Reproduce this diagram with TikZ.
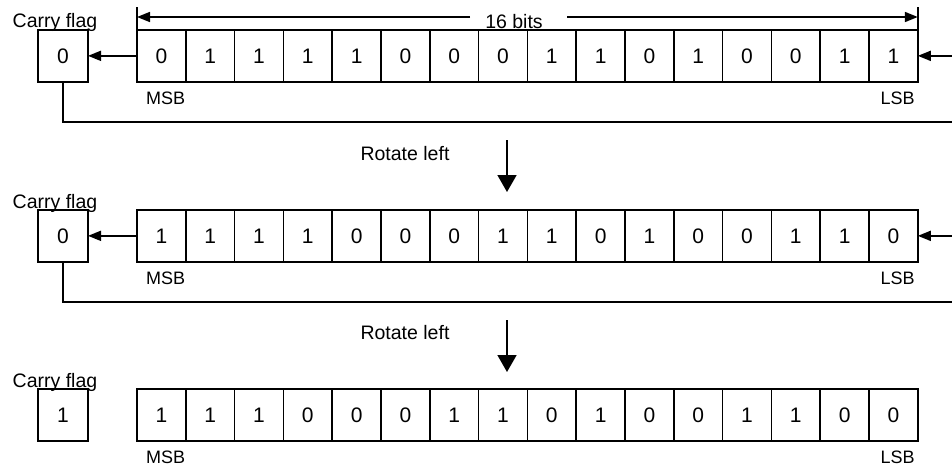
\documentclass[tikz,border=0pt]{standalone}
\usepackage{fontspec}
\setmainfont{Liberation Sans}
\usetikzlibrary{arrows.meta,calc,positioning}
\tikzset{
  bitcell/.style={draw, line width=1.7pt, minimum width=48.8pt, minimum height=51.7pt,
    inner sep=0pt, outer sep=0pt, font=\fontsize{21}{21}\selectfont},
  carrybox/.style={bitcell, minimum width=50pt},
  lbl/.style={inner sep=0pt, font=\fontsize{19.5}{19.5}\selectfont},
  edgelbl/.style={inner sep=0pt, font=\fontsize{18}{18}\selectfont},
  wire/.style={line width=1.7pt},
  tip/.style={wire, -{Triangle[length=13pt,width=10pt]}},
  bigtip/.style={wire, -{Triangle[length=17pt,width=19pt]}}
}
% one register row: #1 name, #2 top edge, #3 carry bit, #4 the 16 bits
\newcommand{\bitrow}[4]{%
  \node[carrybox, anchor=north west] (#1c) at (38,#2) {#3};
  \node[lbl, anchor=base] (#1lab) at ($(#1c.north)+(-8,-2)$) {Carry flag};
  \foreach \b [count=\i] in {#4} {
    \node[bitcell, anchor=north west] (#1b\i) at ({137+(\i-1)*48.8},#2) {\b};
  }
  \node[edgelbl, anchor=base west] (#1msb) at ($(#1b1.south west)+(9,23)$) {MSB};
  \node[edgelbl, anchor=base east] (#1lsb) at ($(#1b16.south east)+(-3,23)$) {LSB};
}

\begin{document}
\begin{tikzpicture}[x=1pt,y=-1pt]
  \useasboundingbox (0,0) rectangle (952,468);

  \bitrow{ra}{30}{0}{0,1,1,1,1,0,0,0,1,1,0,1,0,0,1,1}
  \bitrow{rb}{210}{0}{1,1,1,1,0,0,0,1,1,0,1,0,0,1,1,0}
  \bitrow{rc}{389}{1}{1,1,1,0,0,0,1,1,0,1,0,0,1,1,0,0}

  % width mark over the first register
  \node[lbl, anchor=base] (bits) at (514,29) {16 bits};
  \coordinate (bitsl) at (470,17);
  \coordinate (bitsr) at (567,17);
  \draw[wire] (rab1.north west) -- ++(0,-23);
  \draw[wire] (rab16.north east) -- ++(0,-23);
  \draw[tip] (bitsl) -- (rab1.north west |- bitsl);
  \draw[tip] (bitsr) -- (rab16.north east |- bitsr);

  % shift out to carry, carry back in at LSB
  \foreach \rw in {ra,rb} {
    \draw[tip] (\rw b1.west) -- (\rw c.east);
    \coordinate (\rw back) at ($(\rw b16.east)+(60,0)$);
    \draw[tip] (\rw c.south) -- ++(0,40.3) -| (\rw back) -- (\rw b16.east);
  }

  % rotate steps
  \node[lbl] (rot1) at (405,154) {Rotate left};
  \node[lbl] (rot2) at (405,333) {Rotate left};
  \coordinate (downa) at (507,140);
  \coordinate (downb) at (507,320);
  \draw[bigtip] (downa) -- ++(0,52);
  \draw[bigtip] (downb) -- ++(0,52);
\end{tikzpicture}
\end{document}
